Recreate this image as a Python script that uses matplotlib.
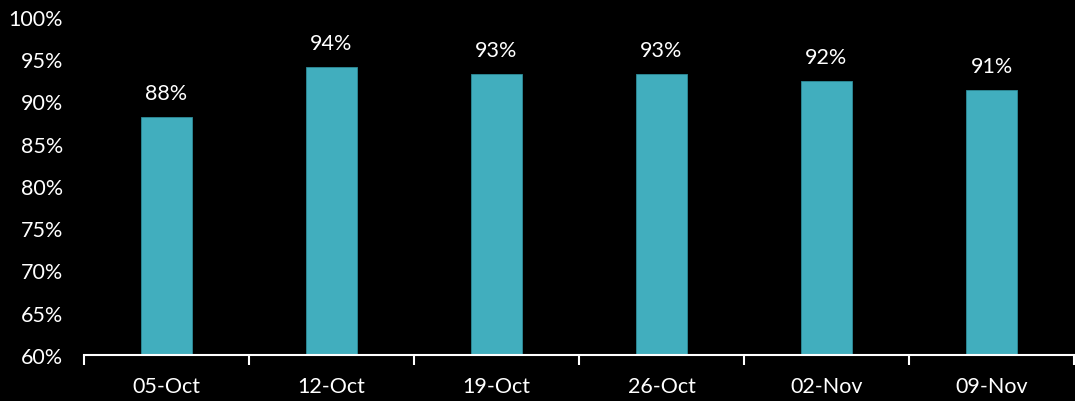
import matplotlib
matplotlib.use("Agg")
import matplotlib.pyplot as plt
import numpy as np
from matplotlib.ticker import FuncFormatter, MultipleLocator

semanas = ["05-Oct", "12-Oct", "19-Oct", "26-Oct", "02-Nov", "09-Nov"]
valores = [88.2, 94.1, 93.3, 93.3, 92.4, 91.4]
rotulos = ["88%", "94%", "93%", "93%", "92%", "91%"]

COR_BARRA = "#41AEBE"
plt.rcParams["font.family"] = ["Lato", "DejaVu Sans"]

fig = plt.figure(figsize=(10.75, 4.02), dpi=100, facecolor="black")
ax = fig.add_axes([84 / 1075, 1 - 356 / 402, 990 / 1075, 338 / 402])
ax.set_facecolor("black")

x = np.arange(len(semanas))
barras = ax.bar(x, valores, width=0.315, color=COR_BARRA, edgecolor="#2E8C99", linewidth=0.6)

# rotulos de dados acima das barras
for b, txt in zip(barras, rotulos):
    ax.annotate(txt, (b.get_x() + b.get_width() / 2, b.get_height()),
                xytext=(0, 10), textcoords="offset points",
                ha="center", va="bottom", color="white", fontsize=15.5)

ax.set_ylim(60, 100)
ax.set_xlim(-0.5, len(semanas) - 0.5)
ax.yaxis.set_major_locator(MultipleLocator(5))
ax.yaxis.set_major_formatter(FuncFormatter(lambda v, p: f"{v:.0f}%"))

ax.set_xticks(x)
ax.set_xticklabels(semanas)
ax.set_xticks(np.arange(len(semanas) + 1) - 0.5, minor=True)
ax.tick_params(axis="x", which="major", length=0, pad=15, colors="white", labelsize=15.5)
ax.tick_params(axis="x", which="minor", length=7, width=1.5, color="white", direction="out")
ax.tick_params(axis="y", length=0, pad=15, colors="white", labelsize=15.5)

for lado in ["top", "right", "left"]:
    ax.spines[lado].set_visible(False)
ax.spines["bottom"].set_color("white")
ax.spines["bottom"].set_linewidth(1.5)

fig.savefig("out.png", dpi=100, facecolor="black")
